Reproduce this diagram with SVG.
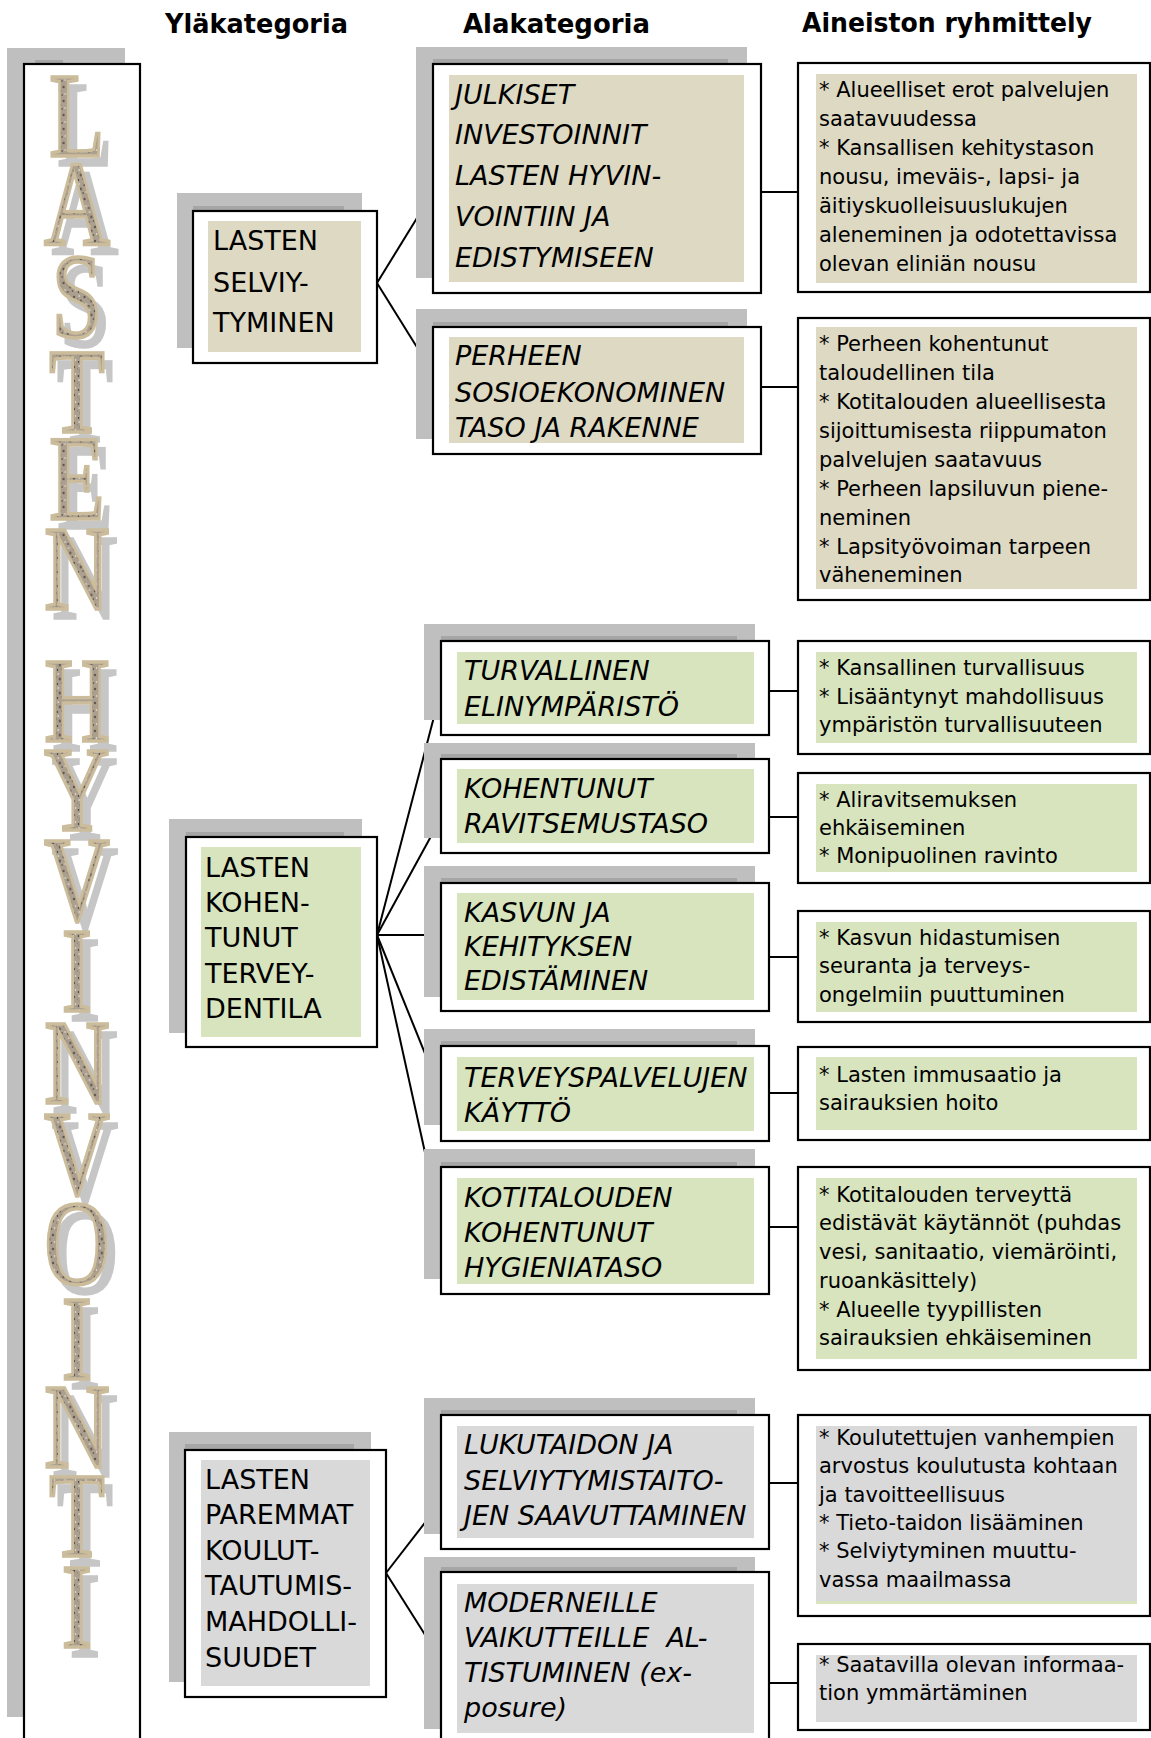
<svg xmlns="http://www.w3.org/2000/svg" width="1151" height="1738" viewBox="0 0 1151 1738">
  <style>
    .box { fill: #fff; stroke: #000; stroke-width: 2.2; }
    .sh { fill: #bfbfbf; }
    .shd { fill: #a6a6a6; }
    .tan { fill: #ddd9c3; }
    .grn { fill: #d7e4bd; }
    .gry { fill: #d9d9d9; }
    .t { font-family: "DejaVu Sans", "Noto Sans", sans-serif; font-size: 27px; fill: #000; }
    .ti { font-style: italic; }
    .r { font-size: 21px; }
    .hd { font-weight: bold; font-size: 27px; }
    .cn { stroke: #000; stroke-width: 2; fill: none; }
    .big { font-family: "Liberation Serif", "DejaVu Serif", serif; font-size: 121px;
           fill: url(#granite); stroke: #cbbc9b; stroke-width: 3.5; filter: url(#lettershadow); }
  </style>
  <defs>
    <pattern id="granite" width="14" height="14" patternUnits="userSpaceOnUse">
      <rect width="14" height="14" fill="#ab9f8f"/>
      <circle cx="3" cy="4" r="1.3" fill="#5a5048"/>
      <circle cx="10" cy="2" r="1" fill="#e4ddd0"/>
      <circle cx="7" cy="9" r="1.6" fill="#6b6057"/>
      <circle cx="12" cy="12" r="1" fill="#463e38"/>
      <circle cx="2" cy="11" r="1.1" fill="#d8cfc0"/>
      <circle cx="11" cy="6" r="0.8" fill="#3c352f"/>
      <circle cx="5" cy="13" r="0.7" fill="#7e7268"/>
    </pattern>
    <!-- flat grey drop shadow behind the title letters (offsets are in the rotated text space) -->
    <filter id="lettershadow" x="-5%" y="-40%" width="110%" height="180%">
      <feFlood flood-color="#c6c6c6"/>
      <feComposite in2="SourceAlpha" operator="in"/>
      <feOffset dx="9" dy="-10.7"/>
      <feMerge><feMergeNode/><feMergeNode in="SourceGraphic"/></feMerge>
    </filter>
  </defs>

  <rect width="1151" height="1738" fill="#fff"/>

  <!-- column headings -->
  <g id="headings" class="t hd">
    <text x="165" y="33" textLength="183" lengthAdjust="spacingAndGlyphs">Yläkategoria</text>
    <text x="463" y="33" textLength="187" lengthAdjust="spacingAndGlyphs">Alakategoria</text>
    <text x="802" y="32" textLength="290" lengthAdjust="spacingAndGlyphs">Aineiston ryhmittely</text>
  </g>

  <!-- tall title column: the line runs downwards, each glyph turned back upright -->
  <g id="title">
    <rect class="sh" x="7" y="48" width="118" height="1669"/>
    <rect class="shd" x="35" y="60" width="28" height="4"/>
    <rect class="box" x="24" y="64" width="116" height="1690"/>
    <g transform="translate(77 0) scale(0.75 1) rotate(90)">
      <text class="big" rotate="-90"
            x="156 245 337 432 519 609 675 741 830 920 1011 1103 1194 1284 1379 1467 1556 1647"
            y="36.9 43.7 33.6 36.9 36.9 43.7 0 43.7 43.7 43.7 20.2 43.7 43.7 43.7 20.2 43.7 36.9 20.2">LASTEN HYVINVOINTI</text>
    </g>
  </g>

  <!-- connectors -->
  <g id="connectors" class="cn">
    <line x1="377" y1="283" x2="433" y2="192"/>
    <line x1="377" y1="283" x2="433" y2="373"/>
    <line x1="377" y1="935" x2="441" y2="690"/>
    <line x1="377" y1="935" x2="441" y2="818"/>
    <line x1="377" y1="935" x2="441" y2="935"/>
    <line x1="377" y1="935" x2="441" y2="1093"/>
    <line x1="377" y1="935" x2="441" y2="1225"/>
    <line x1="386" y1="1573" x2="441" y2="1502"/>
    <line x1="386" y1="1573" x2="441" y2="1660"/>
    <line x1="761" y1="192" x2="798" y2="192"/>
    <line x1="761" y1="387" x2="798" y2="387"/>
    <line x1="769" y1="691" x2="798" y2="691"/>
    <line x1="769" y1="817" x2="798" y2="817"/>
    <line x1="769" y1="957" x2="798" y2="957"/>
    <line x1="769" y1="1093" x2="798" y2="1093"/>
    <line x1="769" y1="1227" x2="798" y2="1227"/>
    <line x1="769" y1="1483" x2="798" y2="1483"/>
    <line x1="769" y1="1683" x2="798" y2="1683"/>
  </g>

  <!-- upper categories -->
  <g id="yla-selviytyminen">
    <rect class="sh" x="177" y="193" width="185" height="155"/>
    <rect class="shd" x="193" y="206" width="151" height="5"/>
    <rect class="box" x="193" y="211" width="184" height="152"/>
    <rect class="tan" x="208" y="221" width="153" height="131"/>
    <text class="t"><tspan x="213" y="250">LASTEN</tspan><tspan x="213" y="292">SELVIY-</tspan><tspan x="213" y="332">TYMINEN</tspan></text>
  </g>
  <g id="yla-terveydentila">
    <rect class="sh" x="169" y="819" width="193" height="214"/>
    <rect class="shd" x="186" y="832" width="158" height="5"/>
    <rect class="box" x="186" y="837" width="191" height="210"/>
    <rect class="grn" x="201" y="847" width="160" height="190"/>
    <text class="t"><tspan x="205" y="877">LASTEN</tspan><tspan x="205" y="912">KOHEN-</tspan><tspan x="205" y="947">TUNUT</tspan><tspan x="205" y="983">TERVEY-</tspan><tspan x="205" y="1018">DENTILA</tspan></text>
  </g>
  <g id="yla-koulutus">
    <rect class="sh" x="169" y="1432" width="202" height="250"/>
    <rect class="shd" x="185" y="1444" width="169" height="6"/>
    <rect class="box" x="185" y="1450" width="201" height="247"/>
    <rect class="gry" x="201" y="1460" width="169" height="226"/>
    <text class="t"><tspan x="205" y="1489">LASTEN</tspan><tspan x="205" y="1524">PAREMMAT</tspan><tspan x="205" y="1560">KOULUT-</tspan><tspan x="205" y="1595">TAUTUMIS-</tspan><tspan x="205" y="1631">MAHDOLLI-</tspan><tspan x="205" y="1667">SUUDET</tspan></text>
  </g>

  <!-- sub categories -->
  <g id="ala-investoinnit">
    <rect class="sh" x="416" y="47" width="331" height="231"/>
    <rect class="shd" x="433" y="59" width="295" height="5"/>
    <rect class="box" x="433" y="64" width="328" height="229"/>
    <rect class="tan" x="449" y="75" width="295" height="207"/>
    <text class="t ti"><tspan x="455" y="104">JULKISET</tspan><tspan x="455" y="144">INVESTOINNIT</tspan><tspan x="455" y="185">LASTEN HYVIN-</tspan><tspan x="455" y="226">VOINTIIN JA</tspan><tspan x="455" y="267">EDISTYMISEEN</tspan></text>
  </g>
  <g id="ala-perhe">
    <rect class="sh" x="416" y="309" width="331" height="130"/>
    <rect class="shd" x="433" y="322" width="295" height="5"/>
    <rect class="box" x="433" y="327" width="328" height="127"/>
    <rect class="tan" x="449" y="337" width="295" height="106"/>
    <text class="t ti"><tspan x="455" y="365">PERHEEN</tspan><tspan x="455" y="402">SOSIOEKONOMINEN</tspan><tspan x="455" y="437">TASO JA RAKENNE</tspan></text>
  </g>
  <g id="ala-elinymparisto">
    <rect class="sh" x="424" y="624" width="331" height="96"/>
    <rect class="shd" x="441" y="636" width="296" height="5"/>
    <rect class="box" x="441" y="641" width="328" height="94"/>
    <rect class="grn" x="457" y="652" width="297" height="72"/>
    <text class="t ti"><tspan x="464" y="680">TURVALLINEN</tspan><tspan x="464" y="716">ELINYMPÄRISTÖ</tspan></text>
  </g>
  <g id="ala-ravitsemus">
    <rect class="sh" x="424" y="743" width="331" height="95"/>
    <rect class="shd" x="441" y="754" width="296" height="5"/>
    <rect class="box" x="441" y="759" width="328" height="94"/>
    <rect class="grn" x="457" y="769" width="297" height="74"/>
    <text class="t ti"><tspan x="464" y="798">KOHENTUNUT</tspan><tspan x="464" y="833">RAVITSEMUSTASO</tspan></text>
  </g>
  <g id="ala-kasvu">
    <rect class="sh" x="424" y="866" width="331" height="131"/>
    <rect class="shd" x="441" y="878" width="296" height="5"/>
    <rect class="box" x="441" y="883" width="328" height="128"/>
    <rect class="grn" x="457" y="893" width="297" height="107"/>
    <text class="t ti"><tspan x="464" y="922">KASVUN JA</tspan><tspan x="464" y="956">KEHITYKSEN</tspan><tspan x="464" y="990">EDISTÄMINEN</tspan></text>
  </g>
  <g id="ala-terveyspalvelut">
    <rect class="sh" x="424" y="1029" width="331" height="96"/>
    <rect class="shd" x="441" y="1041" width="296" height="5"/>
    <rect class="box" x="441" y="1046" width="328" height="95"/>
    <rect class="grn" x="457" y="1057" width="297" height="74"/>
    <text class="t ti"><tspan x="464" y="1087">TERVEYSPALVELUJEN</tspan><tspan x="464" y="1122">KÄYTTÖ</tspan></text>
  </g>
  <g id="ala-hygienia">
    <rect class="sh" x="424" y="1149" width="331" height="130"/>
    <rect class="shd" x="441" y="1162" width="296" height="5"/>
    <rect class="box" x="441" y="1167" width="328" height="127"/>
    <rect class="grn" x="457" y="1178" width="297" height="106"/>
    <text class="t ti"><tspan x="464" y="1207">KOTITALOUDEN</tspan><tspan x="464" y="1242">KOHENTUNUT</tspan><tspan x="464" y="1277">HYGIENIATASO</tspan></text>
  </g>
  <g id="ala-lukutaito">
    <rect class="sh" x="424" y="1398" width="331" height="136"/>
    <rect class="shd" x="441" y="1410" width="296" height="5"/>
    <rect class="box" x="441" y="1415" width="328" height="134"/>
    <rect class="gry" x="457" y="1426" width="297" height="112"/>
    <text class="t ti"><tspan x="464" y="1454">LUKUTAIDON JA</tspan><tspan x="464" y="1490">SELVIYTYMISTAITO-</tspan><tspan x="464" y="1525">JEN SAAVUTTAMINEN</tspan></text>
  </g>
  <g id="ala-vaikutteet">
    <rect class="sh" x="424" y="1557" width="331" height="172"/>
    <rect class="shd" x="441" y="1567" width="296" height="5"/>
    <rect class="box" x="441" y="1572" width="328" height="180"/>
    <rect class="gry" x="457" y="1584" width="297" height="149"/>
    <text class="t ti" style="white-space:pre"><tspan x="464" y="1612">MODERNEILLE</tspan><tspan x="464" y="1647">VAIKUTTEILLE  AL-</tspan><tspan x="464" y="1682">TISTUMINEN (ex-</tspan><tspan x="464" y="1717">posure)</tspan></text>
  </g>

  <!-- material groupings -->
  <g id="ryhma-1">
    <rect class="box" x="798" y="63" width="352" height="229"/>
    <rect class="tan" x="816" y="74" width="321" height="209"/>
    <text class="t r"><tspan x="819" y="97">* Alueelliset erot palvelujen</tspan><tspan x="819" y="126">saatavuudessa</tspan><tspan x="819" y="155">* Kansallisen kehitystason</tspan><tspan x="819" y="184">nousu, imeväis-, lapsi- ja</tspan><tspan x="819" y="213">äitiyskuolleisuuslukujen</tspan><tspan x="819" y="242">aleneminen ja odotettavissa</tspan><tspan x="819" y="271">olevan eliniän nousu</tspan></text>
  </g>
  <g id="ryhma-2">
    <rect class="box" x="798" y="318" width="352" height="282"/>
    <rect class="tan" x="816" y="327" width="321" height="262"/>
    <text class="t r"><tspan x="819" y="351">* Perheen kohentunut</tspan><tspan x="819" y="380">taloudellinen tila</tspan><tspan x="819" y="409">* Kotitalouden alueellisesta</tspan><tspan x="819" y="438">sijoittumisesta riippumaton</tspan><tspan x="819" y="467">palvelujen saatavuus</tspan><tspan x="819" y="496">* Perheen lapsiluvun piene-</tspan><tspan x="819" y="525">neminen</tspan><tspan x="819" y="554">* Lapsityövoiman tarpeen</tspan><tspan x="819" y="582">väheneminen</tspan></text>
  </g>
  <g id="ryhma-3">
    <rect class="box" x="798" y="641" width="352" height="113"/>
    <rect class="grn" x="816" y="652" width="321" height="91"/>
    <text class="t r"><tspan x="819" y="675">* Kansallinen turvallisuus</tspan><tspan x="819" y="704">* Lisääntynyt mahdollisuus</tspan><tspan x="819" y="732">ympäristön turvallisuuteen</tspan></text>
  </g>
  <g id="ryhma-4">
    <rect class="box" x="798" y="773" width="352" height="110"/>
    <rect class="grn" x="816" y="784" width="321" height="88"/>
    <text class="t r"><tspan x="819" y="807">* Aliravitsemuksen</tspan><tspan x="819" y="835">ehkäiseminen</tspan><tspan x="819" y="863">* Monipuolinen ravinto</tspan></text>
  </g>
  <g id="ryhma-5">
    <rect class="box" x="798" y="911" width="352" height="111"/>
    <rect class="grn" x="816" y="922" width="321" height="90"/>
    <text class="t r"><tspan x="819" y="945">* Kasvun hidastumisen</tspan><tspan x="819" y="973">seuranta ja terveys-</tspan><tspan x="819" y="1002">ongelmiin puuttuminen</tspan></text>
  </g>
  <g id="ryhma-6">
    <rect class="box" x="798" y="1047" width="352" height="93"/>
    <rect class="grn" x="816" y="1057" width="321" height="73"/>
    <text class="t r"><tspan x="819" y="1082">* Lasten immusaatio ja</tspan><tspan x="819" y="1110">sairauksien hoito</tspan></text>
  </g>
  <g id="ryhma-7">
    <rect class="box" x="798" y="1167" width="352" height="203"/>
    <rect class="grn" x="816" y="1178" width="321" height="181"/>
    <text class="t r"><tspan x="819" y="1202">* Kotitalouden terveyttä</tspan><tspan x="819" y="1230">edistävät käytännöt (puhdas</tspan><tspan x="819" y="1259">vesi, sanitaatio, viemäröinti,</tspan><tspan x="819" y="1288">ruoankäsittely)</tspan><tspan x="819" y="1317">* Alueelle tyypillisten</tspan><tspan x="819" y="1345">sairauksien ehkäiseminen</tspan></text>
  </g>
  <g id="ryhma-8">
    <rect class="box" x="798" y="1415" width="352" height="201"/>
    <rect class="gry" x="816" y="1426" width="321" height="178"/>
    <rect class="grn" x="816" y="1601" width="321" height="3"/>
    <text class="t r"><tspan x="819" y="1445">* Koulutettujen vanhempien</tspan><tspan x="819" y="1473">arvostus koulutusta kohtaan</tspan><tspan x="819" y="1502">ja tavoitteellisuus</tspan><tspan x="819" y="1530">* Tieto-taidon lisääminen</tspan><tspan x="819" y="1558">* Selviytyminen muuttu-</tspan><tspan x="819" y="1587">vassa maailmassa</tspan></text>
  </g>
  <g id="ryhma-9">
    <rect class="box" x="798" y="1644" width="352" height="86"/>
    <rect class="gry" x="816" y="1655" width="321" height="67"/>
    <text class="t r"><tspan x="819" y="1672">* Saatavilla olevan informaa-</tspan><tspan x="819" y="1700">tion ymmärtäminen</tspan></text>
  </g>
</svg>
